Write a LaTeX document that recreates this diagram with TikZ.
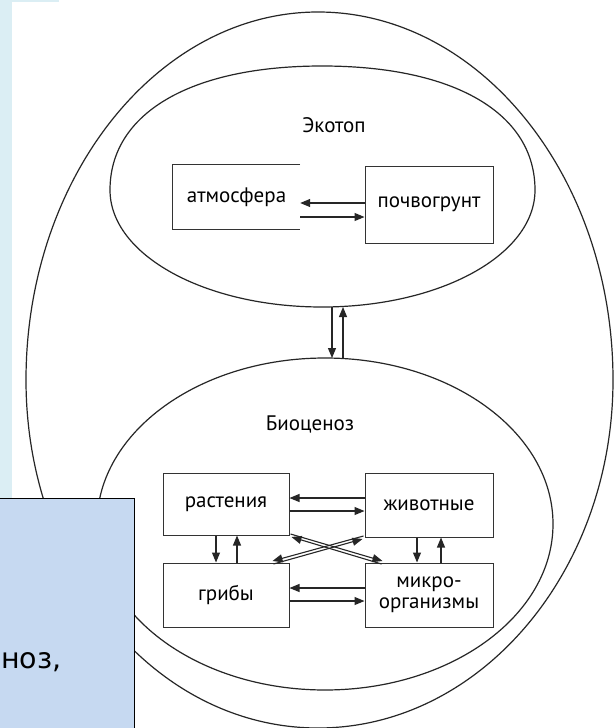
\documentclass[tikz,border=0pt]{standalone}
\usepackage{fontspec}
\setmainfont{PT Sans}
\newfontfamily\slidefont{DejaVu Sans}
\usetikzlibrary{arrows.meta}
\definecolor{stripblue}{RGB}{219,238,244}
\definecolor{panelblue}{RGB}{198,217,241}
\newcommand\labfont{\fontsize{21}{21}\selectfont}
\begin{document}
\begin{tikzpicture}[x=1pt,y=-1pt,
  curve/.style={line width=1.2pt, draw=black!85},
  boxnode/.style={draw=black!80, line width=1pt, inner sep=0pt, font=\labfont, align=center},
  openbox/.style={draw=black!80, line width=1pt},
  arr/.style={line width=1.1pt, draw=black!85, -{Triangle[length=10pt,width=8pt]}},
  lbl/.style={font=\labfont, inner sep=0pt}
]
\useasboundingbox (0,0) rectangle (615,728);
\clip (0,0) rectangle (615,728);
\fill[white] (0,0) rectangle (615,728);
\fill[stripblue] (0,0) rectangle (12,498);
\fill[stripblue] (0,0) rectangle (59,2);

% outer egg
\draw[curve] (26,380) .. controls (26,177) and (158,12) .. (318,12)
  .. controls (480,12) and (613,177) .. (613,380)
  .. controls (613,572) and (480,728) .. (318,728)
  .. controls (156,728) and (26,572) .. cycle;
% ekotop
\draw[curve] (110,190) .. controls (110,113) and (191,66) .. (322,66)
  .. controls (454,66) and (535,113) .. (535,190)
  .. controls (535,255) and (440,307) .. (322,307)
  .. controls (205,307) and (110,255) .. cycle;
% biocenosis
\draw[curve] (325,524) ellipse [x radius=228, y radius=166];

\node[lbl] (ekotoptitle) at (334,125) {Экотоп};
\node[lbl] (biotitle) at (310,424) {Биоценоз};

\node[boxnode, minimum width=128pt, minimum height=77pt] (pochva) at (429,204.5) {почвогрунт};
\node[lbl, minimum width=127pt, minimum height=64pt] (atm) at (236.5,197) {атмосфера};
\draw[openbox] (atm.north east) -- (atm.north west) -- (atm.south west) -- (atm.south east);

\node[boxnode, minimum width=126pt, minimum height=62pt] (rast) at (226,504) {растения};
\node[boxnode, minimum width=128pt, minimum height=64pt] (zhiv) at (429,505) {животные};
\node[boxnode, minimum width=126pt, minimum height=64pt] (grib) at (226,595) {грибы};
\node[boxnode, minimum width=128pt, minimum height=64pt] (mikro) at (429,595) {микро-\\организмы};

% ekotop arrows
\draw[arr] ([yshift=1.5pt]pochva.west) -- ([yshift=-6pt]atm.east);
\draw[arr] ([yshift=-20pt]atm.east) -- ([yshift=-12.5pt]pochva.west);

% between spheres
\coordinate (ekA) at (332,307);
\coordinate (bioA) at (332,358);
\coordinate (ekB) at (343,307);
\coordinate (bioB) at (343,358);
\draw[arr] (ekA) -- (bioA);
\draw[arr] (bioB) -- (ekB);

% biocenosis arrows
\draw[arr] ([yshift=7pt]zhiv.west) -- ([yshift=6pt]rast.east);
\draw[arr] ([yshift=-7pt]rast.east) -- ([yshift=-6pt]zhiv.west);
\draw[arr] ([yshift=7pt]mikro.west) -- ([yshift=7pt]grib.east);
\draw[arr] ([yshift=-6pt]grib.east) -- ([yshift=-6pt]mikro.west);
\draw[arr] ([xshift=-10pt]rast.south) -- ([xshift=-10pt]grib.north);
\draw[arr] ([xshift=11pt]grib.north) -- ([xshift=11pt]rast.south);
\draw[arr] ([xshift=-12pt]zhiv.south) -- ([xshift=-12pt]mikro.north);
\draw[arr] ([xshift=12pt]mikro.north) -- ([xshift=12pt]zhiv.south);
% diagonals
\draw[arr] ([xshift=1pt,yshift=1.5pt]rast.south east) -- ([xshift=18pt,yshift=1.5pt]mikro.north west);
\draw[arr] ([xshift=17pt,yshift=-1.5pt]mikro.north west) -- ([xshift=2pt,yshift=-1.5pt]rast.south east);
\draw[arr] ([xshift=-1pt,yshift=1.5pt]zhiv.south west) -- ([xshift=-17pt,yshift=1.5pt]grib.north east);
\draw[arr] ([xshift=-16pt,yshift=-1.5pt]grib.north east) -- ([xshift=-2pt,yshift=-1.5pt]zhiv.south west);

% slide panel overlay
\fill[panelblue] (-5,498) rectangle (134,735);
\draw[line width=1pt, black] (-5,498) -- (134,498) -- (134,735);
\node[font=\slidefont\fontsize{28.5}{34}\selectfont, anchor=base west, inner sep=0pt] (slidetext) at (1,668) {ноз,};
\end{tikzpicture}
\end{document}
